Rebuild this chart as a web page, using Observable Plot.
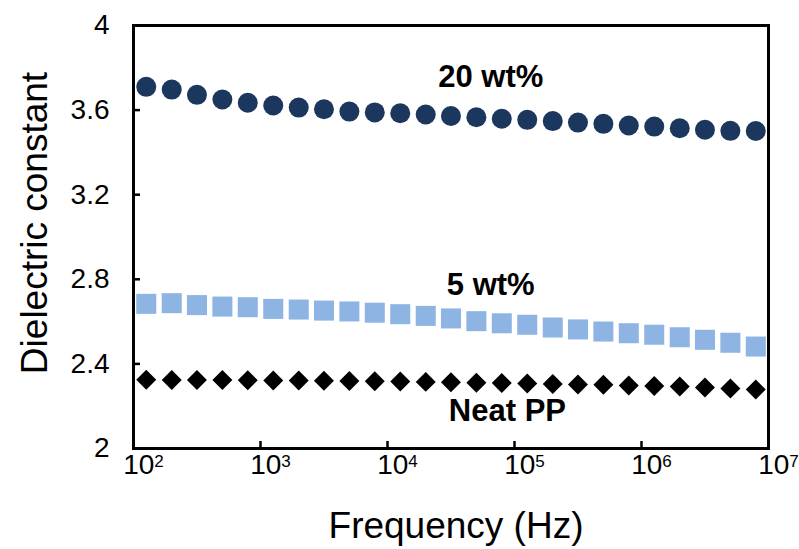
<!DOCTYPE html>
<html><head><meta charset="utf-8">
<script src="https://cdn.jsdelivr.net/npm/d3@7"></script>
<script src="https://cdn.jsdelivr.net/npm/@observablehq/plot@0.6"></script>
<style>
body{margin:0;background:#fff;}
#chart svg{font-family:"Liberation Sans",Arial,sans-serif;}
</style>
</head><body><div id="chart"></div>
<script>
const frequency = [126, 200, 316, 501, 794, 1260, 2000, 3160, 5010, 7940, 12600, 20000, 31600, 50100, 79400, 126000, 200000, 316000, 501000, 794000, 1260000, 2000000, 3160000, 5010000, 7940000];
const wt20 = [3.71, 3.697, 3.672, 3.65, 3.635, 3.622, 3.612, 3.604, 3.593, 3.589, 3.585, 3.579, 3.572, 3.566, 3.559, 3.554, 3.548, 3.541, 3.535, 3.527, 3.522, 3.514, 3.507, 3.502, 3.501];
const wt5 = [2.684, 2.687, 2.678, 2.671, 2.668, 2.660, 2.657, 2.652, 2.648, 2.642, 2.635, 2.627, 2.615, 2.602, 2.592, 2.585, 2.572, 2.563, 2.553, 2.545, 2.538, 2.526, 2.514, 2.500, 2.482];
const neatPP = [2.325, 2.324, 2.324, 2.324, 2.323, 2.322, 2.322, 2.320, 2.319, 2.318, 2.317, 2.315, 2.313, 2.311, 2.310, 2.307, 2.305, 2.303, 2.301, 2.298, 2.296, 2.293, 2.288, 2.284, 2.279];
const xTicks = [1e2, 1e3, 1e4, 1e5, 1e6, 1e7];
const yTicks = [2, 2.4, 2.8, 3.2, 3.6, 4];
const seriesNames = ["20 wt%", "5 wt%", "Neat PP"];
const labelFreq = [65000, 65000, 88000];
const labelValue = [3.754, 2.775, 2.175];

const rows = (vals) => frequency.map((f, i) => ({f, v: vals[i]}));
const labels = seriesNames.map((t, i) => ({t, f: labelFreq[i], v: labelValue[i]}));

const chart = Plot.plot({
  width: 799, height: 549,
  marginLeft: 133, marginRight: 31, marginTop: 25, marginBottom: 101,
  x: {type: "log", domain: [1e2, 1e7]},
  y: {domain: [2, 4]},
  marks: [
    Plot.dot(rows(neatPP), {x: "f", y: "v", symbol: "diamond2", r: 9, fill: "#000"}),
    Plot.dot(rows(wt5), {x: "f", y: "v", symbol: "square", r: 11.3, fill: "#8EB4E3"}),
    Plot.dot(rows(wt20), {x: "f", y: "v", symbol: "circle", r: 10, fill: "#1B375E"}),
    Plot.frame({stroke: "#000", strokeWidth: 3}),
    Plot.axisY(yTicks, {tickSize: -7, text: null, strokeWidth: 2.5, label: null}),
    Plot.axisY(yTicks, {tickSize: 0, tickPadding: 24, fontSize: 28, label: null, tickFormat: d => String(d), fill: "#000"}),
    Plot.axisX(xTicks, {tickSize: -7, text: null, strokeWidth: 2.5, label: null}),
    Plot.axisX(xTicks, {tickSize: 0, tickPadding: 6, fontSize: 28, label: null, dx: 10, tickFormat: d => "10^" + Math.round(Math.log10(d)), fill: "#000"}),
    Plot.text(labels, {x: "f", y: "v", text: "t", fontSize: 31, fontWeight: "bold", fill: "#000"}),
    Plot.text(["Frequency (Hz)"], {frameAnchor: "bottom", textAnchor: "middle", lineAnchor: "middle", dx: 5, dy: 78, fontSize: 37, fill: "#000"}),
    Plot.text(["Dielectric constant"], {frameAnchor: "left", textAnchor: "middle", lineAnchor: "middle", rotate: -90, dx: -98, dy: -14, fontSize: 37, fill: "#000"})
  ]
});
document.getElementById("chart").appendChild(chart);

// superscript exponents in x tick labels
chart.querySelectorAll('g[aria-label="x-axis tick label"] text').forEach(t => {
  const s = t.textContent;
  if (s.indexOf("^") < 0) return;
  const [base, exp] = s.split("^");
  t.textContent = base;
  const ts = document.createElementNS("http://www.w3.org/2000/svg", "tspan");
  ts.setAttribute("dy", "-0.45em");
  ts.setAttribute("font-size", "17");
  ts.textContent = exp;
  t.appendChild(ts);
});
</script>
</body></html>
